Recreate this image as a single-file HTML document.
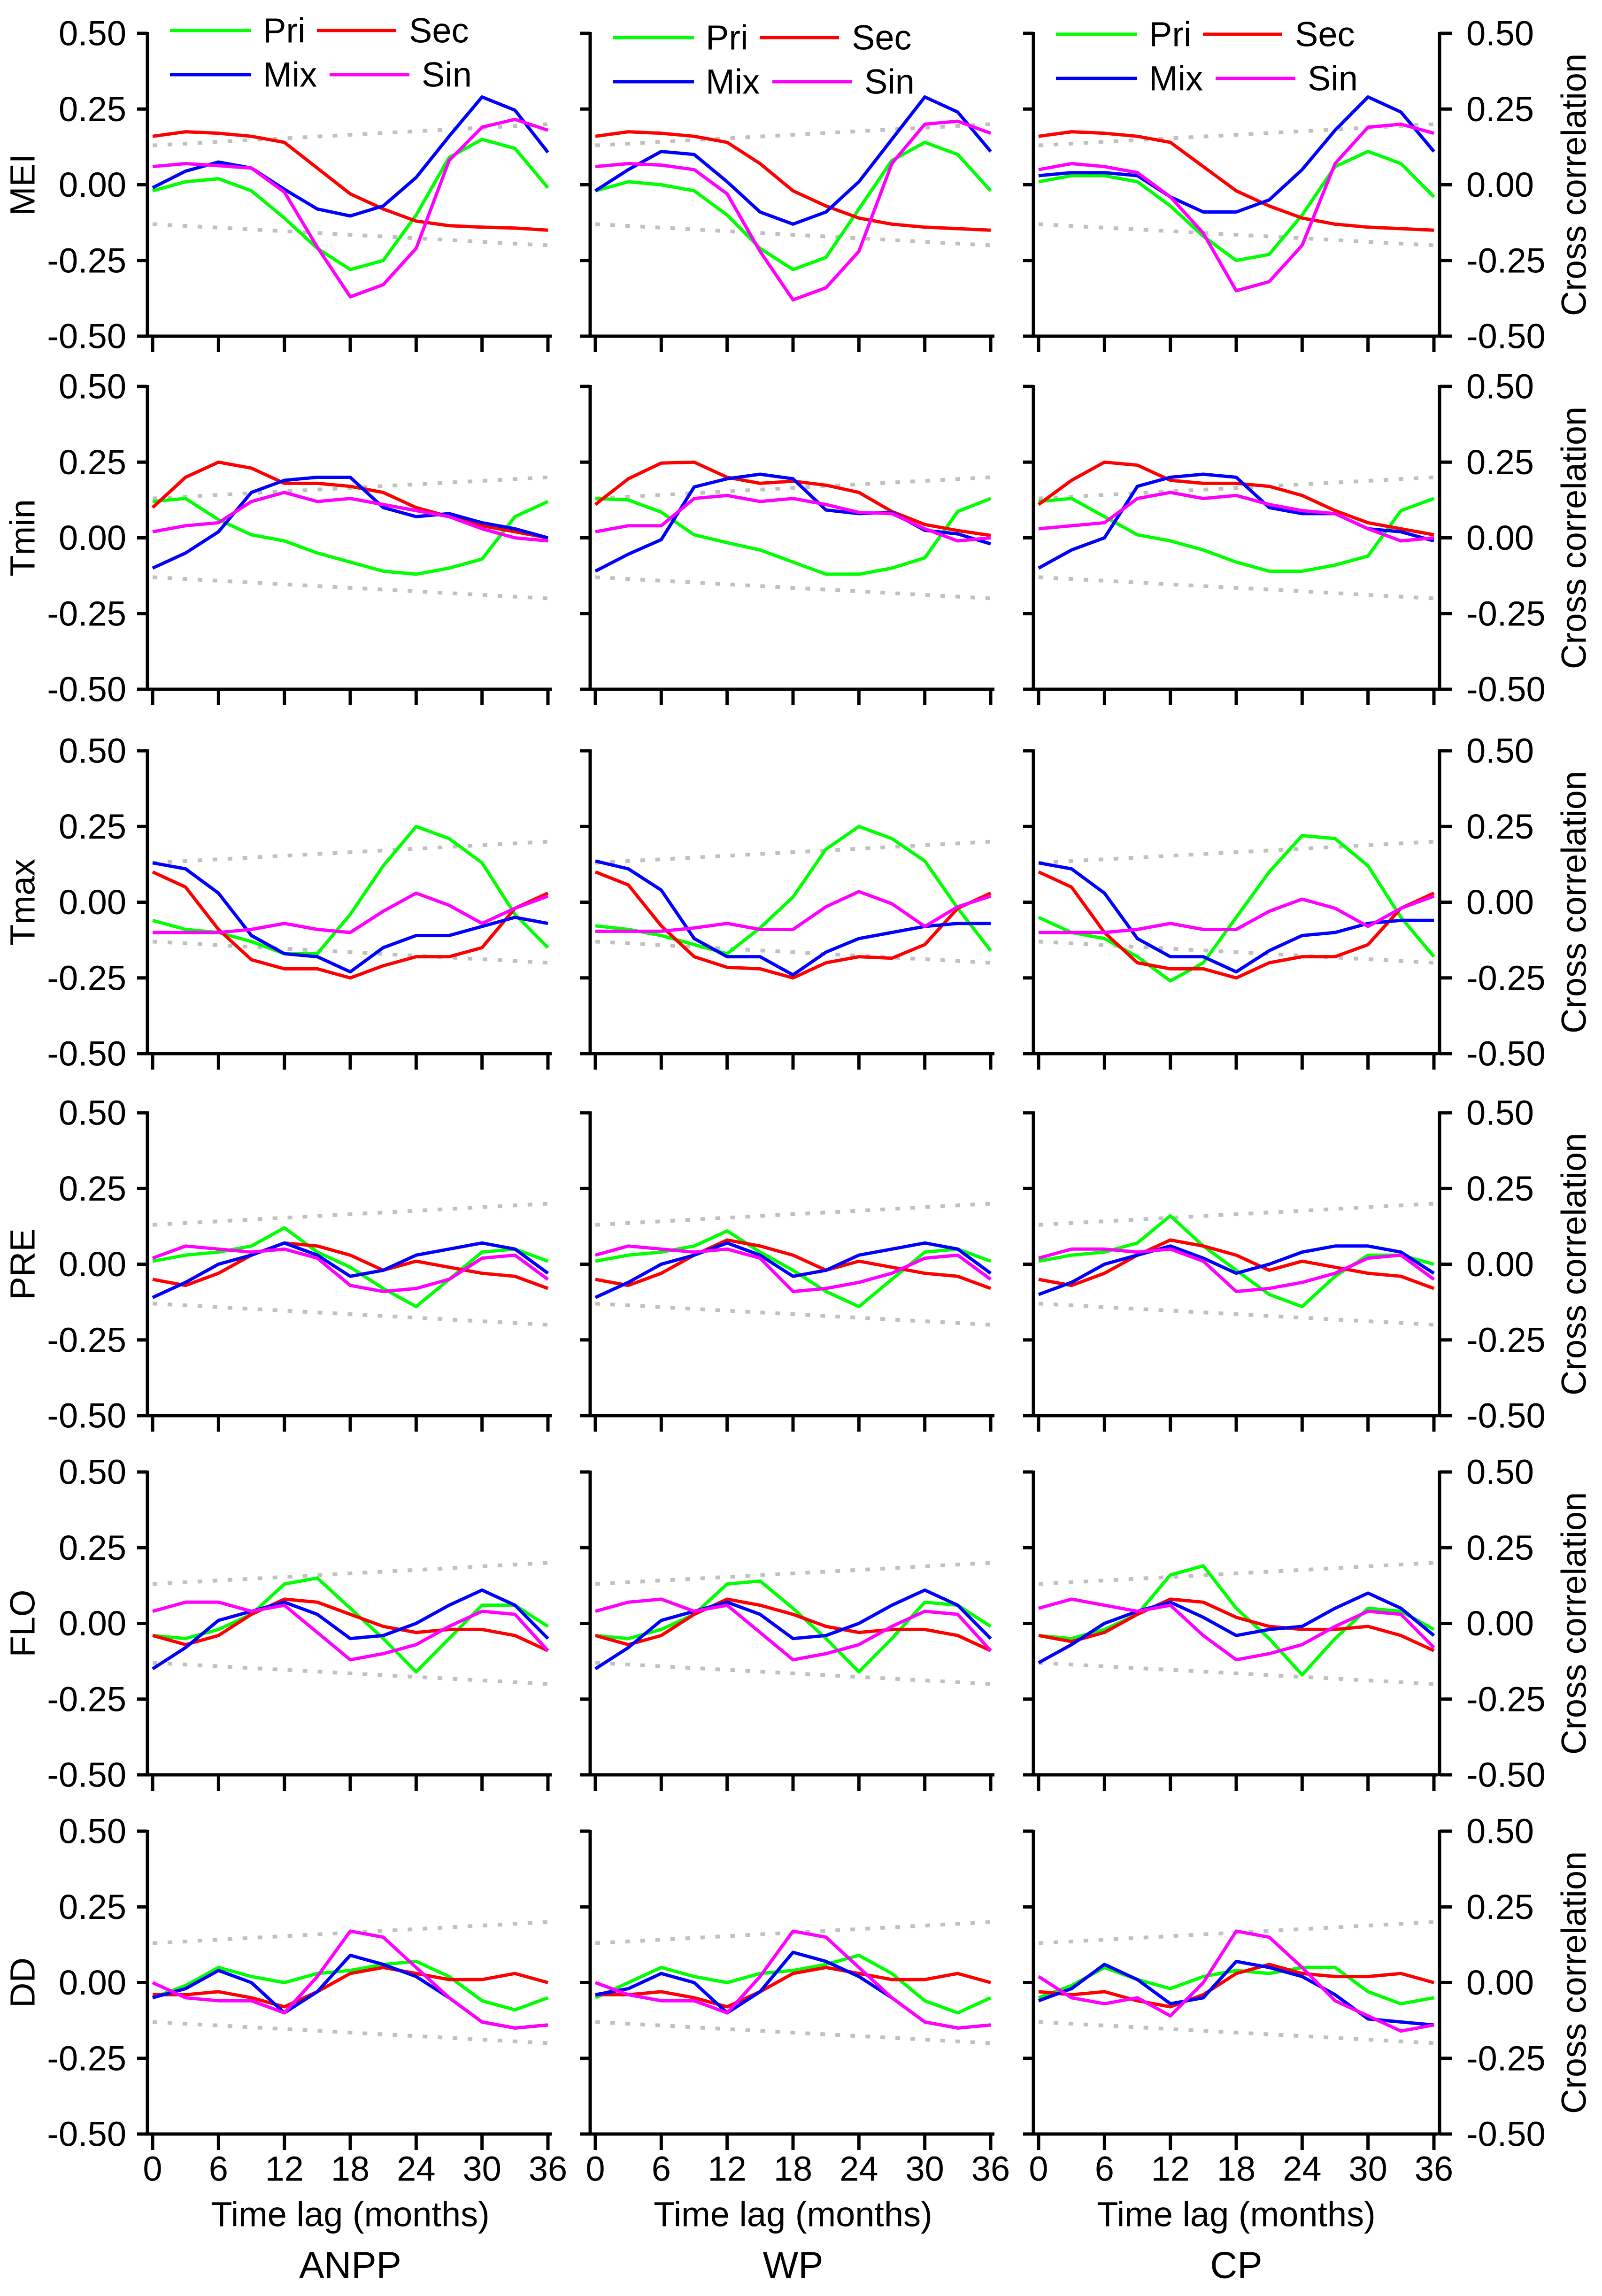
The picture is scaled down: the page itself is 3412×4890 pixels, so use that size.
<!DOCTYPE html>
<html><head><meta charset="utf-8"><style>
html,body{margin:0;padding:0;background:#fff;}
svg{display:block;font-family:"Liberation Sans",sans-serif;}
</style></head><body>
<svg id="chart" width="3412" height="4890" viewBox="0 0 3412 4890" xmlns="http://www.w3.org/2000/svg"></svg>
<script>
const lags=[0,3,6,9,12,15,18,21,24,27,30,33,36];
const xTicks=[0,6,12,18,24,30,36];
const yTicks=[0.5,0.25,0,-0.25,-0.5];
const yTickLabels=["0.50","0.25","0.00","-0.25","-0.50"];
const rowNames=["MEI","Tmin","Tmax","PRE","FLO","DD"];
const colNames=["ANPP","WP","CP"];
const seriesNames=["Pri","Sec","Mix","Sin"];
const confLags=[0,36];
const confUpper=[0.13,0.20];
const confLower=[-0.13,-0.20];

// MEI
const MEI_ANPP_Pri=[-0.02,0.01,0.02,-0.02,-0.11,-0.21,-0.28,-0.25,-0.10,0.09,0.15,0.12,-0.01];
const MEI_ANPP_Sec=[0.16,0.175,0.17,0.16,0.14,0.055,-0.03,-0.08,-0.12,-0.135,-0.14,-0.143,-0.15];
const MEI_ANPP_Mix=[-0.01,0.045,0.075,0.055,-0.015,-0.08,-0.103,-0.07,0.024,0.16,0.29,0.246,0.107];
const MEI_ANPP_Sin=[0.06,0.07,0.063,0.055,-0.024,-0.206,-0.37,-0.33,-0.21,0.08,0.19,0.216,0.18];
const MEI_WP_Pri=[-0.02,0.01,0.0,-0.02,-0.10,-0.21,-0.28,-0.24,-0.08,0.08,0.14,0.10,-0.02];
const MEI_WP_Sec=[0.16,0.175,0.17,0.16,0.14,0.07,-0.02,-0.07,-0.11,-0.13,-0.14,-0.145,-0.15];
const MEI_WP_Mix=[-0.02,0.05,0.11,0.10,0.01,-0.09,-0.13,-0.09,0.01,0.15,0.29,0.24,0.11];
const MEI_WP_Sin=[0.06,0.07,0.065,0.05,-0.03,-0.22,-0.38,-0.34,-0.22,0.07,0.20,0.21,0.17];
const MEI_CP_Pri=[0.01,0.03,0.03,0.01,-0.07,-0.17,-0.25,-0.23,-0.10,0.06,0.11,0.07,-0.04];
const MEI_CP_Sec=[0.16,0.175,0.17,0.16,0.14,0.06,-0.02,-0.07,-0.11,-0.13,-0.14,-0.145,-0.15];
const MEI_CP_Mix=[0.03,0.04,0.04,0.03,-0.04,-0.09,-0.09,-0.05,0.05,0.18,0.29,0.24,0.11];
const MEI_CP_Sin=[0.05,0.07,0.06,0.04,-0.04,-0.16,-0.35,-0.32,-0.20,0.07,0.19,0.20,0.17];
// Tmin
const Tmin_ANPP_Pri=[0.12,0.13,0.06,0.01,-0.01,-0.05,-0.08,-0.11,-0.12,-0.10,-0.07,0.07,0.12];
const Tmin_ANPP_Sec=[0.10,0.20,0.25,0.23,0.18,0.18,0.17,0.15,0.10,0.07,0.04,0.02,0.0];
const Tmin_ANPP_Mix=[-0.10,-0.05,0.02,0.15,0.19,0.20,0.20,0.10,0.07,0.08,0.05,0.03,0.0];
const Tmin_ANPP_Sin=[0.02,0.04,0.05,0.12,0.15,0.12,0.13,0.11,0.09,0.07,0.03,0.0,-0.01];
const Tmin_WP_Pri=[0.13,0.125,0.085,0.01,-0.016,-0.04,-0.08,-0.12,-0.12,-0.10,-0.066,0.087,0.13];
const Tmin_WP_Sec=[0.11,0.195,0.247,0.25,0.20,0.18,0.187,0.174,0.15,0.087,0.044,0.024,0.008];
const Tmin_WP_Mix=[-0.11,-0.054,-0.006,0.168,0.195,0.21,0.195,0.092,0.08,0.084,0.025,0.013,-0.02];
const Tmin_WP_Sin=[0.02,0.04,0.04,0.13,0.14,0.12,0.13,0.11,0.084,0.08,0.03,-0.01,0.0];
const Tmin_CP_Pri=[0.12,0.13,0.07,0.01,-0.01,-0.04,-0.08,-0.11,-0.11,-0.09,-0.06,0.09,0.13];
const Tmin_CP_Sec=[0.11,0.19,0.25,0.24,0.19,0.18,0.18,0.17,0.14,0.09,0.05,0.03,0.01];
const Tmin_CP_Mix=[-0.10,-0.04,0.0,0.17,0.20,0.21,0.20,0.10,0.08,0.08,0.03,0.02,-0.01];
const Tmin_CP_Sin=[0.03,0.04,0.05,0.13,0.15,0.13,0.14,0.11,0.09,0.08,0.03,-0.01,0.0];
// Tmax
const Tmax_ANPP_Pri=[-0.06,-0.09,-0.10,-0.13,-0.17,-0.17,-0.04,0.12,0.25,0.21,0.13,-0.04,-0.15];
const Tmax_ANPP_Sec=[0.10,0.05,-0.09,-0.19,-0.22,-0.22,-0.25,-0.21,-0.18,-0.18,-0.15,-0.02,0.03];
const Tmax_ANPP_Mix=[0.13,0.11,0.03,-0.11,-0.17,-0.18,-0.23,-0.15,-0.11,-0.11,-0.08,-0.05,-0.07];
const Tmax_ANPP_Sin=[-0.10,-0.10,-0.10,-0.09,-0.07,-0.09,-0.10,-0.03,0.03,-0.01,-0.07,-0.02,0.02];
const Tmax_WP_Pri=[-0.078,-0.09,-0.11,-0.14,-0.17,-0.085,0.017,0.175,0.25,0.21,0.136,-0.02,-0.16];
const Tmax_WP_Sec=[0.10,0.057,-0.078,-0.18,-0.215,-0.22,-0.25,-0.20,-0.18,-0.185,-0.14,-0.02,0.03];
const Tmax_WP_Mix=[0.136,0.11,0.04,-0.12,-0.18,-0.18,-0.24,-0.165,-0.12,-0.10,-0.08,-0.07,-0.07];
const Tmax_WP_Sin=[-0.096,-0.096,-0.096,-0.085,-0.07,-0.09,-0.09,-0.015,0.035,-0.005,-0.08,-0.015,0.02];
const Tmax_CP_Pri=[-0.05,-0.10,-0.12,-0.18,-0.26,-0.20,-0.05,0.10,0.22,0.21,0.12,-0.05,-0.18];
const Tmax_CP_Sec=[0.10,0.05,-0.10,-0.20,-0.22,-0.22,-0.25,-0.20,-0.18,-0.18,-0.14,-0.02,0.03];
const Tmax_CP_Mix=[0.13,0.11,0.03,-0.12,-0.18,-0.18,-0.23,-0.16,-0.11,-0.10,-0.07,-0.06,-0.06];
const Tmax_CP_Sin=[-0.10,-0.10,-0.10,-0.09,-0.07,-0.09,-0.09,-0.03,0.01,-0.02,-0.08,-0.02,0.02];
// PRE
const PRE_ANPP_Pri=[0.01,0.03,0.04,0.06,0.12,0.04,-0.01,-0.08,-0.14,-0.05,0.04,0.05,0.01];
const PRE_ANPP_Sec=[-0.05,-0.07,-0.03,0.03,0.07,0.06,0.03,-0.02,0.01,-0.01,-0.03,-0.04,-0.08];
const PRE_ANPP_Mix=[-0.11,-0.06,0.0,0.03,0.07,0.03,-0.04,-0.02,0.03,0.05,0.07,0.05,-0.03];
const PRE_ANPP_Sin=[0.02,0.06,0.05,0.04,0.05,0.02,-0.07,-0.09,-0.08,-0.05,0.02,0.03,-0.05];
const PRE_WP_Pri=[0.01,0.03,0.04,0.06,0.11,0.04,-0.02,-0.09,-0.14,-0.05,0.04,0.05,0.01];
const PRE_WP_Sec=[-0.05,-0.07,-0.03,0.03,0.08,0.06,0.03,-0.02,0.01,-0.01,-0.03,-0.04,-0.08];
const PRE_WP_Mix=[-0.11,-0.06,0.0,0.03,0.07,0.03,-0.04,-0.02,0.03,0.05,0.07,0.05,-0.03];
const PRE_WP_Sin=[0.03,0.06,0.05,0.04,0.05,0.02,-0.09,-0.08,-0.06,-0.03,0.02,0.03,-0.05];
const PRE_CP_Pri=[0.01,0.03,0.04,0.07,0.16,0.06,-0.02,-0.10,-0.14,-0.04,0.03,0.03,0.0];
const PRE_CP_Sec=[-0.05,-0.07,-0.03,0.03,0.08,0.06,0.03,-0.02,0.01,-0.01,-0.03,-0.04,-0.08];
const PRE_CP_Mix=[-0.10,-0.06,0.0,0.03,0.06,0.02,-0.03,0.0,0.04,0.06,0.06,0.04,-0.03];
const PRE_CP_Sin=[0.02,0.05,0.05,0.04,0.05,0.01,-0.09,-0.08,-0.06,-0.03,0.02,0.03,-0.05];
// FLO
const FLO_ANPP_Pri=[-0.04,-0.05,-0.02,0.03,0.13,0.15,0.05,-0.05,-0.16,-0.05,0.06,0.06,-0.01];
const FLO_ANPP_Sec=[-0.04,-0.07,-0.04,0.03,0.08,0.07,0.03,-0.01,-0.03,-0.02,-0.02,-0.04,-0.09];
const FLO_ANPP_Mix=[-0.15,-0.08,0.01,0.04,0.07,0.03,-0.05,-0.04,0.0,0.06,0.11,0.06,-0.05];
const FLO_ANPP_Sin=[0.04,0.07,0.07,0.04,0.06,-0.03,-0.12,-0.10,-0.07,-0.01,0.04,0.03,-0.09];
const FLO_WP_Pri=[-0.04,-0.05,-0.02,0.03,0.13,0.14,0.05,-0.05,-0.16,-0.05,0.07,0.06,-0.01];
const FLO_WP_Sec=[-0.04,-0.07,-0.04,0.03,0.08,0.06,0.03,-0.01,-0.03,-0.02,-0.02,-0.04,-0.09];
const FLO_WP_Mix=[-0.15,-0.08,0.01,0.04,0.07,0.03,-0.05,-0.04,0.0,0.06,0.11,0.06,-0.05];
const FLO_WP_Sin=[0.04,0.07,0.08,0.04,0.06,-0.03,-0.12,-0.10,-0.07,-0.01,0.04,0.03,-0.09];
const FLO_CP_Pri=[-0.04,-0.05,-0.02,0.03,0.16,0.19,0.05,-0.05,-0.17,-0.05,0.05,0.04,-0.02];
const FLO_CP_Sec=[-0.04,-0.06,-0.03,0.03,0.08,0.07,0.02,-0.01,-0.02,-0.02,-0.01,-0.04,-0.09];
const FLO_CP_Mix=[-0.13,-0.07,0.0,0.04,0.07,0.02,-0.04,-0.02,-0.01,0.05,0.10,0.05,-0.04];
const FLO_CP_Sin=[0.05,0.08,0.06,0.04,0.06,-0.04,-0.12,-0.10,-0.07,-0.01,0.04,0.03,-0.08];
// DD
const DD_ANPP_Pri=[-0.05,-0.01,0.05,0.02,0.0,0.03,0.04,0.06,0.07,0.02,-0.06,-0.09,-0.05];
const DD_ANPP_Sec=[-0.04,-0.04,-0.03,-0.05,-0.08,-0.03,0.03,0.05,0.03,0.01,0.01,0.03,0.0];
const DD_ANPP_Mix=[-0.05,-0.02,0.04,0.0,-0.10,-0.03,0.09,0.06,0.02,-0.05,-0.13,-0.15,-0.14];
const DD_ANPP_Sin=[0.0,-0.05,-0.06,-0.06,-0.10,0.02,0.17,0.15,0.05,-0.05,-0.13,-0.15,-0.14];
const DD_WP_Pri=[-0.05,0.0,0.05,0.02,0.0,0.03,0.04,0.06,0.09,0.03,-0.06,-0.10,-0.05];
const DD_WP_Sec=[-0.04,-0.04,-0.03,-0.05,-0.08,-0.03,0.03,0.05,0.03,0.01,0.01,0.03,0.0];
const DD_WP_Mix=[-0.04,-0.02,0.03,0.0,-0.10,-0.03,0.10,0.07,0.02,-0.05,-0.13,-0.15,-0.14];
const DD_WP_Sin=[0.0,-0.04,-0.06,-0.06,-0.10,0.02,0.17,0.15,0.05,-0.05,-0.13,-0.15,-0.14];
const DD_CP_Pri=[-0.05,-0.01,0.05,0.01,-0.02,0.02,0.04,0.03,0.05,0.05,-0.03,-0.07,-0.05];
const DD_CP_Sec=[-0.03,-0.04,-0.03,-0.06,-0.08,-0.04,0.03,0.06,0.03,0.02,0.02,0.03,0.0];
const DD_CP_Mix=[-0.06,-0.02,0.06,0.01,-0.07,-0.05,0.07,0.05,0.02,-0.04,-0.12,-0.13,-0.14];
const DD_CP_Sin=[0.02,-0.05,-0.07,-0.05,-0.11,0.0,0.17,0.15,0.05,-0.06,-0.11,-0.16,-0.14];

const DATA={MEI_ANPP_Pri,MEI_ANPP_Sec,MEI_ANPP_Mix,MEI_ANPP_Sin,MEI_WP_Pri,MEI_WP_Sec,MEI_WP_Mix,MEI_WP_Sin,MEI_CP_Pri,MEI_CP_Sec,MEI_CP_Mix,MEI_CP_Sin,
Tmin_ANPP_Pri,Tmin_ANPP_Sec,Tmin_ANPP_Mix,Tmin_ANPP_Sin,Tmin_WP_Pri,Tmin_WP_Sec,Tmin_WP_Mix,Tmin_WP_Sin,Tmin_CP_Pri,Tmin_CP_Sec,Tmin_CP_Mix,Tmin_CP_Sin,
Tmax_ANPP_Pri,Tmax_ANPP_Sec,Tmax_ANPP_Mix,Tmax_ANPP_Sin,Tmax_WP_Pri,Tmax_WP_Sec,Tmax_WP_Mix,Tmax_WP_Sin,Tmax_CP_Pri,Tmax_CP_Sec,Tmax_CP_Mix,Tmax_CP_Sin,
PRE_ANPP_Pri,PRE_ANPP_Sec,PRE_ANPP_Mix,PRE_ANPP_Sin,PRE_WP_Pri,PRE_WP_Sec,PRE_WP_Mix,PRE_WP_Sin,PRE_CP_Pri,PRE_CP_Sec,PRE_CP_Mix,PRE_CP_Sin,
FLO_ANPP_Pri,FLO_ANPP_Sec,FLO_ANPP_Mix,FLO_ANPP_Sin,FLO_WP_Pri,FLO_WP_Sec,FLO_WP_Mix,FLO_WP_Sin,FLO_CP_Pri,FLO_CP_Sec,FLO_CP_Mix,FLO_CP_Sin,
DD_ANPP_Pri,DD_ANPP_Sec,DD_ANPP_Mix,DD_ANPP_Sin,DD_WP_Pri,DD_WP_Sec,DD_WP_Mix,DD_WP_Sin,DD_CP_Pri,DD_CP_Sec,DD_CP_Mix,DD_CP_Sin};

const colors={Pri:"#00ff00",Sec:"#ff0000",Mix:"#0000ff",Sin:"#ff00ff"};
const colX0=[325,1268,2212];
const rowTop=[71,823,1599,2370,3135,3900];
const XSPAN=842, PH=645;
const NS="http://www.w3.org/2000/svg";
const svg=document.getElementById('chart');
function mk(tag,attrs,parent){const e=document.createElementNS(NS,tag);for(const k in attrs)e.setAttribute(k,attrs[k]);(parent||svg).appendChild(e);return e;}
function txt(s,attrs,parent){const e=mk('text',attrs,parent);e.textContent=s;return e;}

for(let r=0;r<6;r++){
  for(let c=0;c<3;c++){
    const x0=colX0[c], top=rowTop[r], bot=top+PH, ax=x0-11;
    const xs=v=>x0+v/36*XSPAN;
    const ys=v=>top+(0.5-v)*PH;
    const g=mk('g',{});
    
    
    [confUpper,confLower].forEach((arr,i)=>{
      const l=mk('line',{x1:xs(confLags[0]),y1:ys(arr[0]),x2:xs(confLags[1]),y2:ys(arr[1]),stroke:"#c0c0c0","stroke-width":8,"stroke-dasharray":"10 22"},g);
      
      
    });
    seriesNames.forEach(s=>{
      const arr=DATA[rowNames[r]+'_'+colNames[c]+'_'+s];
      const pts=arr.map((v,i)=>xs(lags[i]).toFixed(1)+','+ys(v).toFixed(1)).join(' ');
      const p=mk('polyline',{points:pts,fill:"none",stroke:colors[s],"stroke-width":7,"stroke-linejoin":"round"},g);
      
      
    });
    const la=mk('line',{x1:ax,y1:top-3,x2:ax,y2:bot+3,stroke:"#000","stroke-width":7},g);
    
    
    yTicks.forEach((v,i)=>{
      mk('line',{x1:ax-22,y1:ys(v),x2:ax,y2:ys(v),stroke:"#000","stroke-width":7},g);
      if(c===0){
        const t=txt(yTickLabels[i],{x:ax-45,y:ys(v),"text-anchor":"end","dominant-baseline":"central","font-size":74},g);
        
        
      }
    });
    const xa=mk('line',{x1:ax-22,y1:bot,x2:x0+XSPAN+8,y2:bot,stroke:"#000","stroke-width":7},g);
    
    
    xTicks.forEach(v=>{
      mk('line',{x1:xs(v),y1:bot,x2:xs(v),y2:bot+34,stroke:"#000","stroke-width":7},g);
      if(r===5){
        const t=txt(String(v),{x:xs(v),y:bot+74,"text-anchor":"middle","dominant-baseline":"central","font-size":74},g);
        
        
      }
    });
    if(c===2){
      const rx=x0+854;
      const ra=mk('line',{x1:rx,y1:top-3,x2:rx,y2:bot+3,stroke:"#000","stroke-width":7},g);
      
      
      yTicks.forEach((v,i)=>{
        mk('line',{x1:rx,y1:ys(v),x2:rx+26,y2:ys(v),stroke:"#000","stroke-width":7},g);
        const t=txt(yTickLabels[i],{x:rx+57,y:ys(v),"text-anchor":"start","dominant-baseline":"central","font-size":74},g);
        
        
      });
      const cy=top+PH/2;
      const t=txt("Cross correlation",{x:3352,y:cy,"text-anchor":"middle","dominant-baseline":"central","font-size":74,transform:`rotate(-90 3352 ${cy})`},g);
      
      
    }
    if(c===0){
      const cy=top+PH/2;
      const t=txt(rowNames[r],{x:48,y:cy,"text-anchor":"middle","dominant-baseline":"central","font-size":74,transform:`rotate(-90 48 ${cy})`},g);
      
      
    }
    if(r===0){
      const off=[0,15,8][c];
      const y1=65+off,y2=159+off;
      const items=[["Pri",37,210,235,y1],["Sec",350,519,546,y1],["Mix",37,210,235,y2],["Sin",377,547,573,y2]];
      items.forEach(it=>{
        const lg=mk('g',{},g);
        
        
        mk('line',{x1:x0+it[1],y1:it[4],x2:x0+it[2],y2:it[4],stroke:colors[it[0]],"stroke-width":7},lg);
        txt(it[0],{x:x0+it[3],y:it[4],"dominant-baseline":"central","font-size":74},lg);
      });
    }
    if(r===5){
      const cx=x0+XSPAN/2;
      const t1=txt("Time lag (months)",{x:cx,y:4716,"text-anchor":"middle","dominant-baseline":"central","font-size":74},g);
      
      
      const t2=txt(colNames[c],{x:cx,y:4824,"text-anchor":"middle","dominant-baseline":"central","font-size":80},g);
      
      
    }
  }
}
</script>
</body></html>
